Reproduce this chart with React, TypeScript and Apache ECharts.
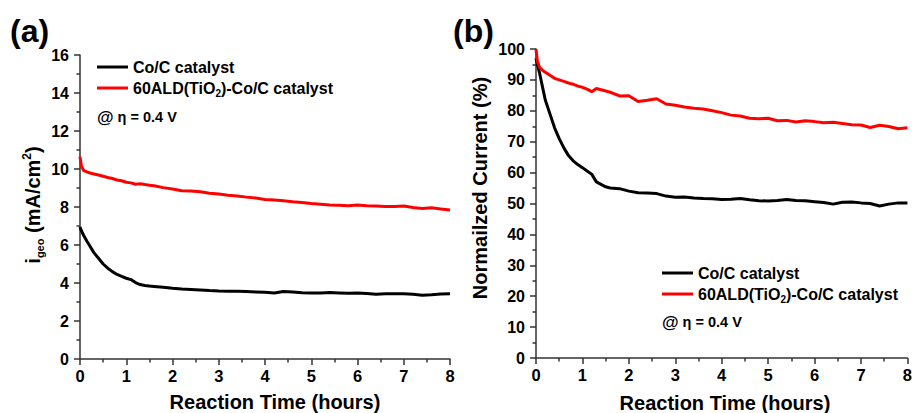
import React, { useEffect, useRef } from 'react';
import * as echarts from 'echarts';

// Reaction time (hours)
const timeHours = [0, 0.03, 0.08, 0.15, 0.2, 0.3, 0.4, 0.5, 0.6, 0.7, 0.8, 0.9, 1.0, 1.1, 1.2, 1.3, 1.4, 1.5, 1.6, 1.8, 2.0, 2.2, 2.4, 2.6, 2.8, 3.0, 3.2, 3.4, 3.6, 3.8, 4.0, 4.2, 4.4, 4.6, 4.8, 5.0, 5.2, 5.4, 5.6, 5.8, 6.0, 6.2, 6.4, 6.6, 6.8, 7.0, 7.2, 7.4, 7.6, 7.8, 8.0];

// Panel (a): i_geo (mA/cm2)
const coC_iGeo = [6.95, 6.75, 6.5, 6.2, 6.0, 5.6, 5.3, 5.0, 4.78, 4.6, 4.45, 4.35, 4.25, 4.18, 4.02, 3.92, 3.87, 3.84, 3.82, 3.78, 3.72, 3.68, 3.66, 3.63, 3.60, 3.58, 3.57, 3.56, 3.55, 3.53, 3.51, 3.47, 3.55, 3.52, 3.49, 3.48, 3.47, 3.50, 3.48, 3.46, 3.47, 3.45, 3.41, 3.43, 3.44, 3.43, 3.41, 3.36, 3.38, 3.42, 3.43];
const ald_iGeo = [10.65, 10.15, 9.92, 9.85, 9.80, 9.74, 9.68, 9.62, 9.55, 9.50, 9.42, 9.38, 9.30, 9.27, 9.20, 9.22, 9.18, 9.15, 9.12, 9.02, 8.95, 8.86, 8.84, 8.80, 8.72, 8.68, 8.62, 8.58, 8.52, 8.47, 8.40, 8.37, 8.33, 8.28, 8.24, 8.18, 8.15, 8.11, 8.09, 8.07, 8.10, 8.06, 8.05, 8.02, 8.03, 8.05, 7.97, 7.92, 7.96, 7.90, 7.84];

// Panel (b): normalized current (%)
const coC_norm = [97, 95, 92, 87, 83.5, 79, 74.5, 71, 68, 65.5, 63.8, 62.6, 61.6, 60.5, 59.5, 57.0, 56.2, 55.4, 55.0, 54.8, 54.0, 53.5, 53.4, 53.2, 52.4, 52.0, 52.1, 51.8, 51.6, 51.5, 51.3, 51.4, 51.6, 51.2, 50.9, 50.8, 51.0, 51.3, 51.0, 50.9, 50.6, 50.3, 49.8, 50.4, 50.5, 50.2, 50.0, 49.2, 49.8, 50.2, 50.2];
const ald_norm = [100, 96, 94, 93, 92.5, 91.5, 90.5, 90, 89.5, 89, 88.6, 88.0, 87.6, 87.0, 86.2, 87.2, 86.8, 86.4, 86.0, 84.8, 84.9, 83.0, 83.4, 83.9, 82.2, 81.8, 81.2, 80.8, 80.6, 80.0, 79.4, 78.6, 78.3, 77.6, 77.4, 77.6, 76.8, 76.9, 76.4, 76.8, 76.5, 76.1, 76.3, 75.9, 75.5, 75.4, 74.6, 75.3, 74.9, 74.2, 74.5];

const seriesNames = ['Co/C catalyst', '60ALD(TiO2)-Co/C catalyst'];
const seriesColors = ['#000000', '#ff0000'];

const FONT = "'Liberation Sans', Arial, Helvetica, sans-serif";
const AXIS_COLOR = '#333333';

const pair = (vals: number[]) => timeHours.map((t, i) => [t, vals[i]]);

export default function App() {
  const ref = useRef<HTMLDivElement>(null);

  useEffect(() => {
    if (!ref.current) return;
    const chart = echarts.init(ref.current, undefined, { renderer: 'svg' });

    const axisCommon = {
      type: 'value' as const,
      splitLine: { show: false },
      axisLine: { show: true, lineStyle: { color: AXIS_COLOR, width: 1.5 } },
      axisTick: { show: true, length: 6, lineStyle: { color: AXIS_COLOR, width: 1.5 } },
      minorTick: { show: true, splitNumber: 2, length: 3.5, lineStyle: { color: AXIS_COLOR, width: 1.5 } },
    };
    const xAxisOf = (gridIndex: number) => ({
      ...axisCommon,
      gridIndex,
      min: 0,
      max: 8,
      interval: 1,
      axisLabel: { fontFamily: FONT, fontWeight: 'bold', fontSize: 16.5, color: '#000', margin: 8 },
    });
    const yLabel = { fontFamily: FONT, fontWeight: 'bold', fontSize: 16, color: '#000', margin: 11 };

    const legendText = {
      fontFamily: FONT,
      fontWeight: 'bold',
      fontSize: 16,
      color: '#000',
      lineHeight: 20,
      rich: {
        sub: { fontFamily: FONT, fontWeight: 'bold', fontSize: 10, color: '#000', verticalAlign: 'bottom', lineHeight: 12 },
      },
    };
    const legendCommon = {
      orient: 'vertical' as const,
      padding: 0,
      itemGap: 1,
      itemWidth: 31,
      itemHeight: 3,
      icon: 'rect',
      selectedMode: false,
      data: seriesNames,
      formatter: (n: string) => n.replace('TiO2', 'TiO{sub|2}'),
      textStyle: legendText,
    };

    const lineSeries = (name: string, color: string, idx: number, vals: number[]) => ({
      name,
      type: 'line' as const,
      xAxisIndex: idx,
      yAxisIndex: idx,
      data: pair(vals),
      symbol: 'none',
      lineStyle: { color, width: 3 },
      itemStyle: { color },
    });

    const etaText = (x: number, y: number) => ({
      type: 'text',
      x,
      y,
      style: {
        text: '{at|@} η = 0.4 V',
        fontFamily: FONT,
        fontWeight: 'bold',
        fontSize: 14.5,
        fill: '#000',
        verticalAlign: 'middle',
        align: 'left',
        rich: { at: { fontFamily: FONT, fontWeight: 'bold', fontSize: 17, fill: '#000' } },
      },
    });

    const option = {
      animation: false,
      backgroundColor: '#ffffff',
      grid: [
        { left: 80, top: 55, width: 370, height: 304 },
        { left: 536, top: 49, width: 378, height: 309 },
      ],
      xAxis: [xAxisOf(0), xAxisOf(1)],
      yAxis: [
        { ...axisCommon, gridIndex: 0, min: 0, max: 16, interval: 2, axisLabel: yLabel },
        { ...axisCommon, gridIndex: 1, min: 0, max: 100, interval: 10, axisLabel: yLabel },
      ],
      legend: [
        { ...legendCommon, left: 97, top: 57 },
        { ...legendCommon, left: 662, top: 263 },
      ],
      series: [
        lineSeries(seriesNames[0], seriesColors[0], 0, coC_iGeo),
        lineSeries(seriesNames[1], seriesColors[1], 0, ald_iGeo),
        lineSeries(seriesNames[0], seriesColors[0], 1, coC_norm),
        lineSeries(seriesNames[1], seriesColors[1], 1, ald_norm),
      ],
      graphic: [
        {
          type: 'text', x: 10, y: 31,
          style: { text: '(a)', fontFamily: FONT, fontWeight: 'bold', fontSize: 32, fill: '#000', verticalAlign: 'middle' },
        },
        {
          type: 'text', x: 453, y: 31,
          style: { text: '(b)', fontFamily: FONT, fontWeight: 'bold', fontSize: 32, fill: '#000', verticalAlign: 'middle' },
        },
        {
          type: 'text', x: 33, y: 205, rotation: Math.PI / 2,
          style: {
            text: 'i{sub|geo} (mA/cm{sup|2})',
            fontFamily: FONT, fontWeight: 'bold', fontSize: 20, fill: '#000', lineHeight: 24,
            align: 'center', verticalAlign: 'middle',
            rich: {
              sub: { fontFamily: FONT, fontWeight: 'bold', fontSize: 11, fill: '#000', verticalAlign: 'bottom', lineHeight: 12 },
              sup: { fontFamily: FONT, fontWeight: 'bold', fontSize: 12, fill: '#000', verticalAlign: 'top', lineHeight: 12 },
            },
          },
        },
        {
          type: 'text', x: 480, y: 188, rotation: Math.PI / 2,
          style: {
            text: 'Normailzed Current (%)',
            fontFamily: FONT, fontWeight: 'bold', fontSize: 20, fill: '#000',
            align: 'center', verticalAlign: 'middle',
          },
        },
        {
          type: 'text', x: 275, y: 402,
          style: { text: 'Reaction Time (hours)', fontFamily: FONT, fontWeight: 'bold', fontSize: 20, fill: '#000', align: 'center', verticalAlign: 'middle' },
        },
        {
          type: 'text', x: 725, y: 403,
          style: { text: 'Reaction Time (hours)', fontFamily: FONT, fontWeight: 'bold', fontSize: 20, fill: '#000', align: 'center', verticalAlign: 'middle' },
        },
        etaText(97, 117),
        etaText(662, 322),
      ],
    };

    chart.setOption(option as any);
    return () => chart.dispose();
  }, []);

  return (
    <div
      ref={ref}
      style={{ position: 'fixed', left: 0, top: 0, width: 915, height: 413, background: '#fff' }}
    />
  );
}
